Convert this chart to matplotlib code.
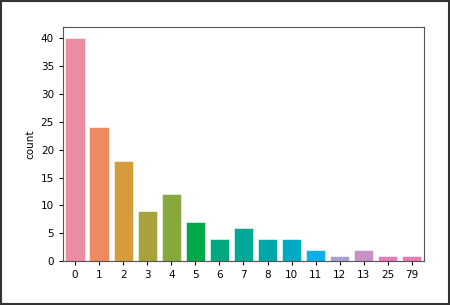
import matplotlib
matplotlib.use("Agg")
import matplotlib.pyplot as plt
from matplotlib.patches import Rectangle

categories = ["0", "1", "2", "3", "4", "5", "6", "7", "8", "10", "11", "12", "13", "25", "79"]
counts = [40, 24, 18, 9, 12, 7, 4, 6, 4, 4, 2, 1, 2, 1, 1]

bar_colors = ["#ec8ca0", "#ee8a62", "#d69c3c", "#a8a23c", "#86a83c", "#00a84a",
              "#00a880", "#00a898", "#00a6a8", "#00aac0", "#10aee8", "#a8a0d0",
              "#c890c4", "#e87ab8", "#ec7ab2"]

plt.rcParams['font.family'] = ['DejaVu Sans']
plt.rcParams['font.size'] = 7.5

fig = plt.figure(figsize=(4.5, 3.05), dpi=100)
ax = fig.add_axes([0.14, 0.144, 0.802, 0.767])

x = list(range(len(categories)))
ax.bar(x, counts, width=0.8, color=bar_colors, edgecolor="white", linewidth=0.4)
ax.set_xticks(x)
ax.set_xticklabels(categories)
ax.set_xlim(-0.5, len(categories) - 0.5)
ax.set_ylabel("count", fontsize=7.5)
ax.set_ylim(0, 42)
ax.set_yticks([0, 5, 10, 15, 20, 25, 30, 35, 40])
ax.tick_params(labelsize=7.5, length=3)
for s in ax.spines.values():
    s.set_color("#555555")

fig.patches.append(Rectangle((0.002, 0.003), 0.996, 0.994, transform=fig.transFigure,
                             fill=False, edgecolor="#333333", linewidth=1.5))

fig.savefig("out.png", dpi=100)
